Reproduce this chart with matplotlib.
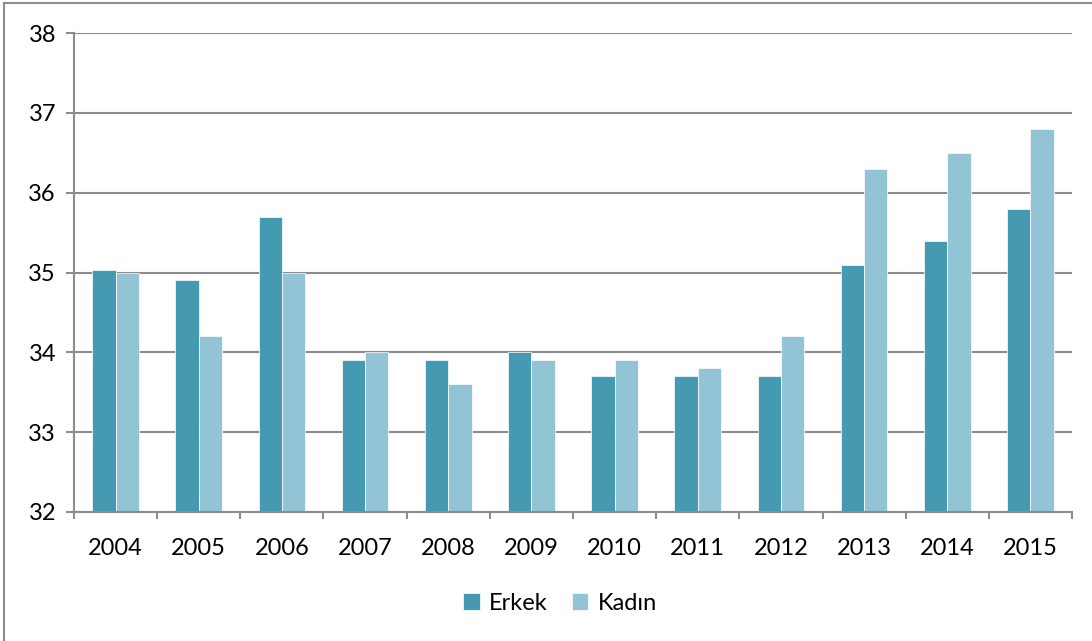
import matplotlib.pyplot as plt
import numpy as np
from matplotlib.patches import Rectangle

years = ['2004', '2005', '2006', '2007', '2008', '2009', '2010', '2011', '2012', '2013', '2014', '2015']
erkek = [35.03, 34.9, 35.7, 33.9, 33.9, 34.0, 33.7, 33.7, 33.7, 35.1, 35.4, 35.8]
kadin = [35.0, 34.2, 35.0, 34.0, 33.6, 33.9, 33.9, 33.8, 34.2, 36.3, 36.5, 36.8]

plt.rcParams['font.family'] = ['Lato', 'DejaVu Sans']

fig = plt.figure(figsize=(10.92, 6.41), dpi=100)
ax = fig.add_axes([74 / 1092, 1 - 512 / 641, (1072 - 74) / 1092, (512 - 33) / 641])

# rahmen um die ganze grafik
fig.patches.append(Rectangle((4 / 1092, -0.01), 1.2, 1 - 3 / 641 + 0.01, transform=fig.transFigure,
                             fill=False, edgecolor='#8c8c8c', linewidth=1.5))

x = np.arange(len(years))
w = 0.28
base = 32
ax.bar(x - w / 2, np.array(erkek) - base, w, bottom=base, color='#4599b0', edgecolor='white', linewidth=0.5, label='Erkek')
ax.bar(x + w / 2, np.array(kadin) - base, w, bottom=base, color='#93c4d5', edgecolor='white', linewidth=0.5, label='Kadın')

ax.set_xlim(-0.5, len(years) - 0.5)
ax.set_ylim(32, 38)
ax.set_yticks(range(32, 39))
ax.yaxis.grid(True, color='#8c8c8c', linewidth=1.5)
ax.set_axisbelow(True)

fs = 17
ax.set_xticks(x)
ax.set_xticklabels(years)
ax.set_xticks(np.arange(-0.5, len(years)), minor=True)
ax.tick_params(axis='x', which='major', length=0, pad=19, labelsize=fs)
ax.tick_params(axis='x', which='minor', length=5, width=1.5, color='#8c8c8c')
ax.tick_params(axis='y', length=6, width=1.5, color='#8c8c8c', pad=7, labelsize=fs)

for s in ['top', 'right']:
    ax.spines[s].set_visible(False)
for s in ['left', 'bottom']:
    ax.spines[s].set_color('#8c8c8c')
    ax.spines[s].set_linewidth(1.5)

ax.legend(loc='center', bbox_to_anchor=(560 / 1092, 1 - 603 / 641), bbox_transform=fig.transFigure,
          ncol=2, frameon=False, fontsize=fs, handlelength=0.7, handleheight=0.7, columnspacing=1.0, handletextpad=0.4)

fig.savefig('out.png', dpi=100)
